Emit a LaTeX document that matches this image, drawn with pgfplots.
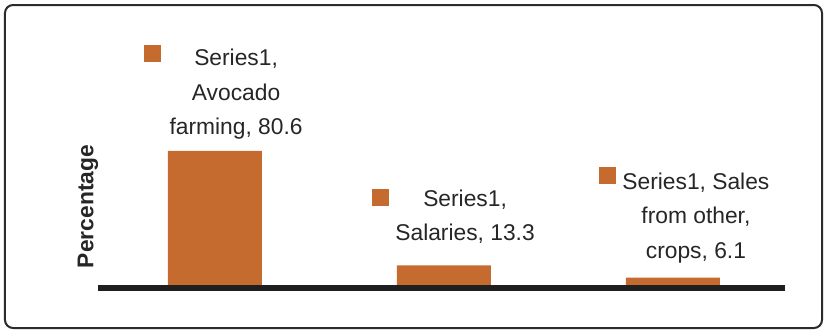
\documentclass[border=0pt]{standalone}
\usepackage{pgfplots}
\pgfplotsset{compat=1.18}
\usepackage{fontspec}
\setmainfont{Liberation Sans}
\definecolor{barcol}{RGB}{198,107,48}
\definecolor{txt}{RGB}{38,38,38}
\definecolor{frm}{RGB}{43,43,43}
\newcommand{\key}[2]{\llap{\raisebox{#1}{\textcolor{barcol}{\rule{8.5pt}{8.5pt}}}\hspace{#2}}}
\begin{document}
\begin{tikzpicture}
\path (-49pt,-22.5pt) rectangle (364pt,144pt);
\draw[frm, line width=1pt, rounded corners=4pt] (-46.5pt,-20pt) rectangle (362pt,141.5pt);
\begin{axis}[at={(0,0)}, anchor=south west, scale only axis,
  width=343.5pt, height=85pt,
  xmin=-0.51, xmax=2.49, ymin=0, ymax=100,
  hide axis, clip=false,
  ybar, bar width=47pt, bar shift=0pt]
\addplot[fill=barcol, draw=none] coordinates {(0,80.6) (1,13.3) (2,6.1)};
\draw[line width=2.6pt, color=black!88] (axis cs:-0.51,0) -- (axis cs:2.49,0);
\tikzset{lbl/.style={inner sep=0pt, align=center, text=txt, font=\fontsize{11.4}{17.25}\selectfont}}
\node[lbl] at (axis cs:0.093,115.3) {\key{2pt}{16.5pt}Series1,\\Avocado\\farming, 80.6};
\node[lbl] at (axis cs:1.093,42.1) {\key{0pt}{17pt}Series1,\\Salaries, 13.3};
\node[lbl] at (axis cs:2.101,42.9) {\key{2.5pt}{3pt}Series1, Sales\\from other,\\crops, 6.1};
\node[rotate=90, inner sep=0pt, text=txt, font=\fontsize{11.4}{13}\selectfont\bfseries] at (axis cs:-0.554,47.9) {Percentage};
\end{axis}
\end{tikzpicture}
\end{document}
